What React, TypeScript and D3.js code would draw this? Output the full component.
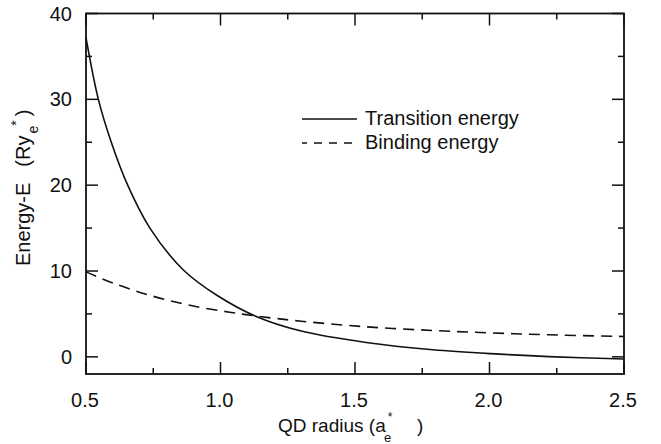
import React from "react";
import * as d3 from "d3";

const transX = [0.5, 0.546, 0.593, 0.655, 0.7375, 0.861, 0.985, 1.133, 1.3, 1.541, 1.789, 2.036, 2.22, 2.5];
const transY = [37.2, 30, 25.1, 20, 15.0, 10.15, 7.2, 4.7, 3.0, 1.67, 0.82, 0.31, 0.02, -0.25];
const bindX = [0.5, 0.6, 0.734, 0.886, 1.034, 1.133, 1.3, 1.541, 1.789, 2.01, 2.22, 2.5];
const bindY = [9.9, 8.6, 7.2, 6.0, 5.2, 4.75, 4.15, 3.5, 3.07, 2.78, 2.57, 2.37];
const xMajor = [0.5, 1.0, 1.5, 2.0, 2.5];
const xMinor = [0.75, 1.25, 1.75, 2.25];
const yMajor = [0, 10, 20, 30, 40];
const yMinor = [5, 15, 25, 35];
const legendLabels = ["Transition energy", "Binding energy"];

const W = 661, H = 444;
const L = 86, R = 624, T = 13.5, B = 374;
const FONT = "'Liberation Sans', Arial, Helvetica, sans-serif";

export default function App() {
  const x = d3.scaleLinear().domain([0.5, 2.5]).range([L, R]);
  const y = d3.scaleLinear().domain([-2, 40]).range([B, T]);
  const line = d3
    .line<[number, number]>()
    .x((d) => x(d[0]))
    .y((d) => y(d[1]))
    .curve(d3.curveCatmullRom.alpha(0.5));
  const trans = transX.map((v, i) => [v, transY[i]] as [number, number]);
  const bind = bindX.map((v, i) => [v, bindY[i]] as [number, number]);
  const stroke = "#111";
  const majLen = 12, minLen = 6;

  return (
    <svg width={W} height={H} style={{ position: "absolute", left: 0, top: 0, background: "#fff" }} fontFamily={FONT}>
      <rect x={0} y={0} width={W} height={H} fill="#fff" />
      <g stroke={stroke} strokeWidth={1.5}>
        {xMajor.map((v) => (
          <g key={"xM" + v}>
            <line x1={x(v)} x2={x(v)} y1={B} y2={B - majLen} />
            <line x1={x(v)} x2={x(v)} y1={T} y2={T + majLen} />
          </g>
        ))}
        {xMinor.map((v) => (
          <g key={"xm" + v}>
            <line x1={x(v)} x2={x(v)} y1={B} y2={B - minLen} />
            <line x1={x(v)} x2={x(v)} y1={T} y2={T + minLen} />
          </g>
        ))}
        {yMajor.map((v) => (
          <g key={"yM" + v}>
            <line x1={L} x2={L + majLen} y1={y(v)} y2={y(v)} />
            <line x1={R} x2={R - majLen} y1={y(v)} y2={y(v)} />
          </g>
        ))}
        {yMinor.map((v) => (
          <g key={"ym" + v}>
            <line x1={L} x2={L + minLen} y1={y(v)} y2={y(v)} />
            <line x1={R} x2={R - minLen} y1={y(v)} y2={y(v)} />
          </g>
        ))}
      </g>
      <rect x={L} y={T} width={R - L} height={B - T} fill="none" stroke={stroke} strokeWidth={1.8} />
      <g fontSize={20} fill="#111">
        {xMajor.map((v) => (
          <text key={"xl" + v} x={x(v) - 1} y={407} textAnchor="middle">
            {d3.format(".1f")(v)}
          </text>
        ))}
        {yMajor.map((v) => (
          <text key={"yl" + v} x={72} y={y(v) + 7} textAnchor="end">
            {v}
          </text>
        ))}
      </g>
      <path d={line(trans) || ""} fill="none" stroke={stroke} strokeWidth={1.6} />
      <path d={line(bind) || ""} fill="none" stroke={stroke} strokeWidth={1.6} strokeDasharray="11,7" />
      <line x1={302} x2={357} y1={119} y2={119} stroke={stroke} strokeWidth={1.6} />
      <line x1={302} x2={358} y1={143} y2={143} stroke={stroke} strokeWidth={1.6} strokeDasharray="8,7" strokeDashoffset={3} />
      <text x={365} y={125} fontSize={20} fill="#111">{legendLabels[0]}</text>
      <text x={365} y={149} fontSize={20} fill="#111">{legendLabels[1]}</text>
      <text x={278} y={432} fontSize={19} fill="#111">
        QD radius (a
        <tspan fontSize={12} dx={2} dy={-11}>*</tspan>
      </text>
      <text x={384} y={442} fontSize={13} fill="#111">e</text>
      <text x={417} y={432} fontSize={19} fill="#111">)</text>
      <text transform="translate(30,266) rotate(-90)" fontSize={20} fill="#111">
        Energy-E
        <tspan dx={16}>(Ry</tspan>
        <tspan fontSize={14} dx={2} dy={8}>e</tspan>
        <tspan fontSize={14} dy={-17}>*</tspan>
        <tspan dx={4} dy={9}>)</tspan>
      </text>
    </svg>
  );
}
